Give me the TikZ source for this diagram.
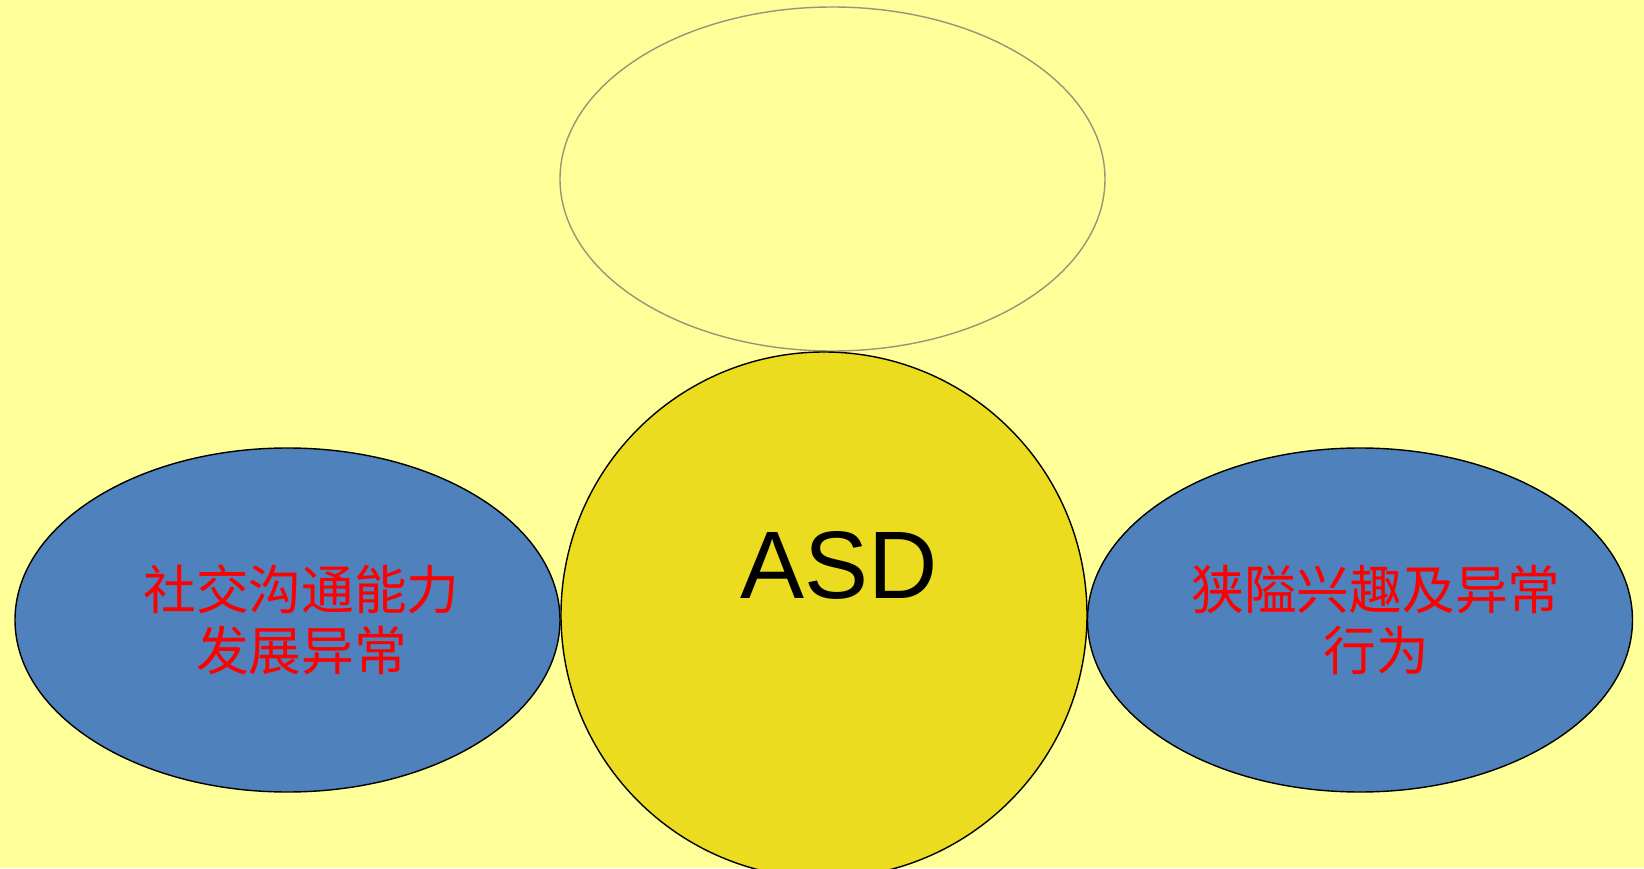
\documentclass[tikz,border=0pt]{standalone}
\usepackage{fontspec}
\setmainfont{Liberation Sans}
\newfontfamily\cjk{Noto Sans CJK SC}
\usetikzlibrary{shapes.geometric}
\definecolor{bgyellow}{RGB}{255,255,153}
\definecolor{coreyellow}{RGB}{236,220,32}
\definecolor{sideblue}{RGB}{79,129,189}
\definecolor{topline}{RGB}{150,150,120}

\begin{document}
\begin{tikzpicture}[
		bubble/.style={draw, ellipse, inner sep=0pt, line width=0.4pt,
			minimum width=5.45cm, minimum height=3.44cm},
		side/.style={bubble, fill=sideblue},
		sidetext/.style={text=red, align=center, font=\cjk\fontsize{15pt}{17.4pt}\selectfont}]
		\fill[bgyellow] (0,0) rectangle (16.44,8.68);
		\useasboundingbox (0,0) rectangle (16.44,8.68);
		
		\node[bubble, draw=topline, fill=bgyellow] (top) at (8.325,6.89) {};
		\node[side] (social) at (2.875,2.48) {};
		\node[side] (interest) at (13.60,2.48) {};
		\node[draw, circle, inner sep=0pt, line width=0.4pt, fill=coreyellow,
			minimum size=5.26cm] (asd) at (8.24,2.53) {};
		
		\node[sidetext] (social-txt) at ([xshift=0.14cm]social.center) {社交沟通能力\\发展异常};
		\node[sidetext] (interest-txt) at ([xshift=0.16cm]interest.center) {狭隘兴趣及异常\\行为};
		\node[font=\fontsize{27.3pt}{29pt}\selectfont] (asd-txt) at ([xshift=0.15cm,yshift=0.50cm]asd.center) {ASD};
		
		\end{tikzpicture}
\end{document}
